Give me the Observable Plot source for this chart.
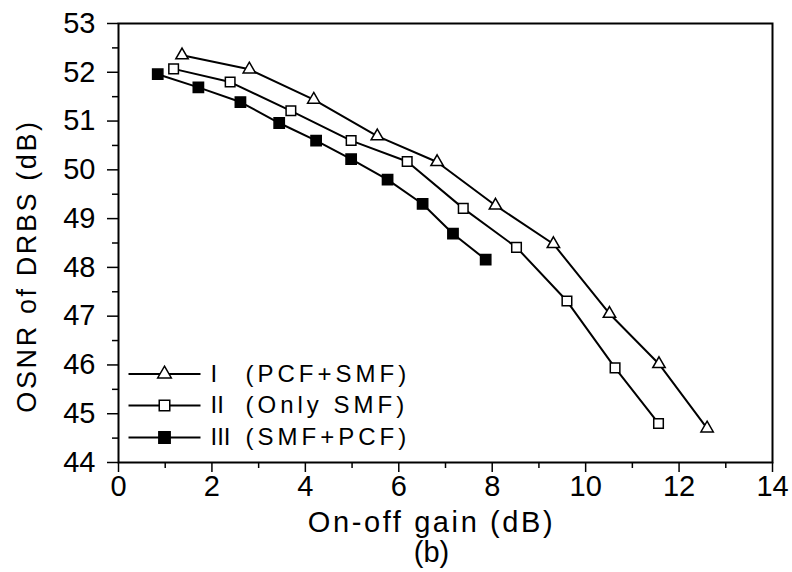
<!DOCTYPE html>
<html>
<head>
<meta charset="utf-8">
<script src="https://cdn.jsdelivr.net/npm/d3@7"></script>
<script src="https://cdn.jsdelivr.net/npm/@observablehq/plot@0.6"></script>
<style>
  html, body { margin: 0; padding: 0; background: #fff; }
  #chart { width: 792px; height: 572px; }
</style>
</head>
<body>
<div id="chart"></div>
<script>
// ---- data ----
const gainI   = [1.36, 2.80, 4.18, 5.54, 6.82, 8.07, 9.31, 10.51, 11.57, 12.60];
const osnrI   = [52.35, 52.06, 51.44, 50.69, 50.16, 49.27, 48.48, 47.05, 46.02, 44.70];
const gainII  = [1.18, 2.39, 3.69, 4.98, 6.18, 7.38, 8.52, 9.60, 10.63, 11.56];
const osnrII  = [52.07, 51.80, 51.21, 50.60, 50.17, 49.21, 48.41, 47.31, 45.94, 44.80];
const gainIII = [0.84, 1.71, 2.61, 3.44, 4.23, 4.98, 5.76, 6.51, 7.16, 7.86];
const osnrIII = [51.96, 51.69, 51.39, 50.96, 50.60, 50.22, 49.80, 49.30, 48.69, 48.16];

const seriesNumerals = ["I", "II", "III"];
const seriesNames = ["(PCF+SMF)", "(Only SMF)", "(SMF+PCF)"];
const xTicks = [0, 2, 4, 6, 8, 10, 12, 14];
const xMinorTicks = [1, 3, 5, 7, 9, 11, 13];
const yTicks = [44, 45, 46, 47, 48, 49, 50, 51, 52, 53];
const yMinorTicks = [44.5, 45.5, 46.5, 47.5, 48.5, 49.5, 50.5, 51.5, 52.5];
const xTitle = "On-off gain (dB)";
const yTitle = "OSNR of DRBS (dB)";
const panelLabel = "(b)";

// ---- build table ----
const seriesData = [
  {gain: gainI, osnr: osnrI, symbol: "triangle", fill: "white", r: 4.6},
  {gain: gainII, osnr: osnrII, symbol: "square", fill: "white", r: 5.4},
  {gain: gainIII, osnr: osnrIII, symbol: "square", fill: "black", r: 5.8}
].map((s, i) => ({
  ...s,
  numeral: seriesNumerals[i],
  name: seriesNames[i],
  rows: s.gain.map((g, j) => ({gain: g, osnr: s.osnr[j]}))
}));

const FONT = "'Liberation Sans', Arial, Helvetica, sans-serif";

// custom symbol: horizontal legend line
const legendLine = {
  draw(context) {
    context.moveTo(-36, 0);
    context.lineTo(36, 0);
  }
};

const legendRowDy = [-88.5, -57, -25];

const marks = [];
// minor + major ticks
marks.push(Plot.axisX(xMinorTicks, {tickSize: 6, text: null, strokeWidth: 1.5, label: null}));
marks.push(Plot.axisX(xTicks, {tickSize: 10, tickPadding: 3, fontSize: 29, strokeWidth: 1.5, label: null}));
marks.push(Plot.axisY(yMinorTicks, {tickSize: 6, text: null, strokeWidth: 1.5, label: null}));
marks.push(Plot.axisY(yTicks, {tickSize: 11, tickPadding: 12, fontSize: 29, strokeWidth: 1.5, label: null}));

// series lines and markers
for (const s of seriesData) {
  marks.push(Plot.line(s.rows, {x: "gain", y: "osnr", stroke: "black", strokeWidth: 2}));
}
for (const s of seriesData) {
  marks.push(Plot.dot(s.rows, {x: "gain", y: "osnr", symbol: s.symbol, r: s.r, fill: s.fill, stroke: "black", strokeWidth: 1.5}));
}

// legend
seriesData.forEach((s, i) => {
  const dy = legendRowDy[i];
  marks.push(Plot.dot([0], {frameAnchor: "bottom-left", dx: 46, dy, symbol: legendLine, stroke: "black", strokeWidth: 2}));
  marks.push(Plot.dot([0], {frameAnchor: "bottom-left", dx: 46, dy, symbol: s.symbol, r: s.r * 1.1, fill: s.fill, stroke: "black", strokeWidth: 1.5}));
  marks.push(Plot.text([s.numeral], {text: d => d, frameAnchor: "bottom-left", dx: 92, dy, textAnchor: "start", lineAnchor: "middle", fontSize: 24, fill: "black"}));
  marks.push(Plot.text([s.name], {text: d => d, frameAnchor: "bottom-left", dx: 127, dy, textAnchor: "start", lineAnchor: "middle", fontSize: 24, fill: "black"}));
});

// axis titles
marks.push(Plot.text([xTitle], {text: d => d, frameAnchor: "bottom", dx: -14, dy: 60, textAnchor: "middle", lineAnchor: "middle", fontSize: 29, fill: "black"}));
marks.push(Plot.text([panelLabel], {text: d => d, frameAnchor: "bottom", dx: -14, dy: 90, textAnchor: "middle", lineAnchor: "middle", fontSize: 29, fill: "black"}));
marks.push(Plot.text([yTitle], {text: d => d, frameAnchor: "left", dx: -91, dy: 23, rotate: -90, textAnchor: "middle", lineAnchor: "middle", fontSize: 27, fill: "black"}));

marks.push(Plot.frame({stroke: "black", strokeWidth: 2}));

const chart = Plot.plot({
  width: 792,
  height: 572,
  marginLeft: 118,
  marginRight: 20,
  marginTop: 23,
  marginBottom: 110,
  style: {fontFamily: FONT, background: "white", color: "black", overflow: "visible"},
  x: {domain: [0, 14]},
  y: {domain: [44, 53]},
  marks
});
document.getElementById("chart").appendChild(chart);

// wide tracking as in the reference
d3.select(chart).selectAll("text").each(function() {
  const t = this.textContent;
  if (t === xTitle) this.setAttribute("letter-spacing", "2.6");
  if (t === yTitle) this.setAttribute("letter-spacing", "2.6");
  if (seriesNames.includes(t)) this.setAttribute("letter-spacing", "4");
});
</script>
</body>
</html>
